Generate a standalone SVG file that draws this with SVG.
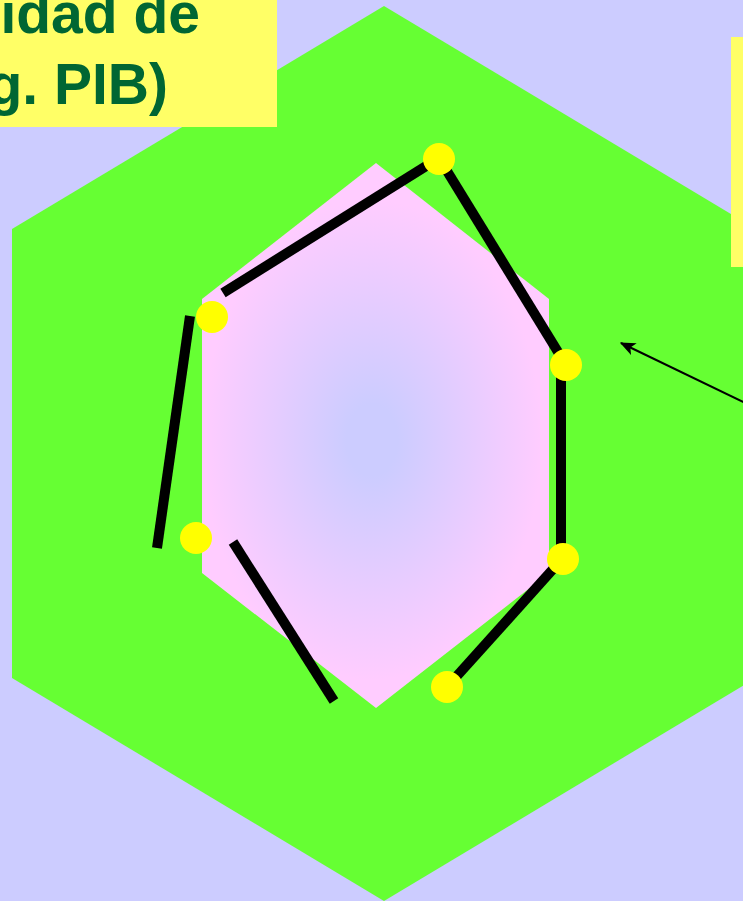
<svg xmlns="http://www.w3.org/2000/svg" width="743" height="901" viewBox="0 0 743 901">
<style>
.seg{stroke:#000;stroke-width:10;fill:none}
.dot{fill:#FFFF00}
.box{fill:#FFFF66}
.lbl{font-family:"Liberation Sans",Arial,sans-serif;font-weight:bold;font-size:57px;fill:#006633}
</style>
<defs>
<radialGradient id="pg" cx="372" cy="440" r="200" gradientUnits="userSpaceOnUse" gradientTransform="translate(372 440) scale(0.85 1.2) translate(-372 -440)">
<stop offset="0" stop-color="#CCCCFF"/>
<stop offset="0.15" stop-color="#CCCCFF"/>
<stop offset="1" stop-color="#FFCCFF"/>
</radialGradient>
<marker id="ah" viewBox="0 0 12 10" refX="11" refY="5" markerWidth="8" markerHeight="6.5" orient="auto" markerUnits="strokeWidth">
<path d="M0,0 L12,5 L0,10 L3,5 Z" fill="#000"/>
</marker>
</defs>
<rect width="743" height="901" fill="#CCCCFF"/>
<g id="outer-hex"><polygon points="384,6 756,229 756,678 384,901 12,678 12,229" fill="#66FF33"/></g>
<g id="inner-hex"><polygon points="376,163 549,299 549,573 376,708 202,573 202,299" fill="url(#pg)"/></g>
<g id="ring">
<line class="seg" x1="223" y1="293" x2="439" y2="158"/>
<line class="seg" x1="439" y1="158" x2="566" y2="365"/>
<line class="seg" x1="561" y1="365" x2="561" y2="558"/>
<line class="seg" x1="563" y1="558" x2="447" y2="687"/>
<line class="seg" x1="190" y1="316" x2="157" y2="548"/>
<line class="seg" x1="233" y1="542" x2="334" y2="701"/>
</g>
<g id="dots">
<circle class="dot" cx="439" cy="159" r="16"/>
<circle class="dot" cx="212" cy="317" r="16"/>
<circle class="dot" cx="566" cy="365" r="16"/>
<circle class="dot" cx="563" cy="559" r="16"/>
<circle class="dot" cx="196" cy="538" r="16"/>
<circle class="dot" cx="447" cy="687" r="16"/>
</g>
<g id="label-left">
<rect class="box" x="0" y="0" width="277" height="127"/>
<text class="lbl" x="200" y="33" text-anchor="end">idad de</text>
<text class="lbl" x="168" y="104" text-anchor="end">g. PIB)</text>
</g>
<g id="label-right"><rect class="box" x="731" y="37" width="20" height="230"/></g>
<g id="connectors">
<line x1="760" y1="410" x2="621" y2="343" stroke="#000" stroke-width="2" marker-end="url(#ah)"/>
</g>
</svg>
